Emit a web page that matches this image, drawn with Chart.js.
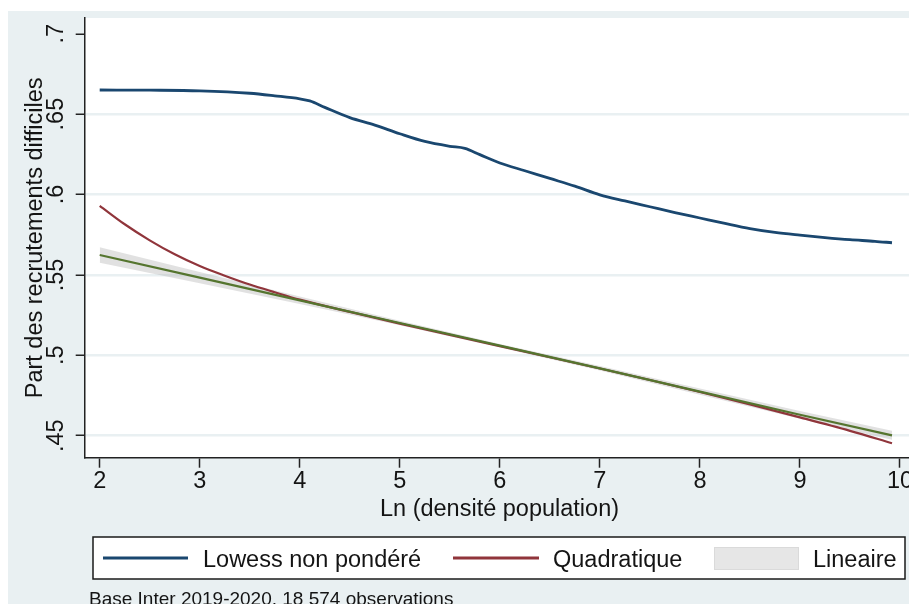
<!DOCTYPE html>
<html><head><meta charset="utf-8">
<script src="https://cdn.jsdelivr.net/npm/chart.js@4.4.1/dist/chart.umd.min.js"></script>
<style>html,body{margin:0;padding:0;background:#fff;overflow:hidden}canvas{display:block}</style>
</head><body>
<canvas id="c" width="909" height="604"></canvas>
<script>
// ---- data ----
const xTicks = [2, 3, 4, 5, 6, 7, 8, 9, 10];
const yTicks = [0.45, 0.5, 0.55, 0.6, 0.65, 0.7];
const yTickLabels = ['.45', '.5', '.55', '.6', '.65', '.7'];

const lowessX = [2, 2.5, 3, 3.5, 3.75, 4, 4.1, 4.25, 4.5, 4.75, 5, 5.25, 5.5, 5.65, 5.8, 6, 6.25, 6.5, 6.75, 7, 7.25, 7.5, 7.75, 8, 8.25, 8.5, 8.75, 9, 9.25, 9.5, 9.75, 9.92];
const lowessY = [0.6650, 0.6649, 0.6645, 0.6630, 0.6614, 0.6595, 0.6582, 0.6542, 0.6478, 0.6432, 0.6378, 0.6330, 0.6300, 0.6287, 0.6248, 0.6196, 0.6148, 0.6100, 0.6052, 0.5998, 0.5960, 0.5924, 0.5888, 0.5854, 0.5820, 0.5788, 0.5764, 0.5747, 0.5732, 0.5719, 0.5709, 0.5700];

const quadX = [2, 2.25, 2.5, 2.75, 3, 3.25, 3.5, 3.75, 4, 4.5, 5, 5.5, 6, 6.5, 7, 7.5, 8, 8.5, 9, 9.5, 9.92];
const quadY = [0.5930, 0.5815, 0.5715, 0.5628, 0.5555, 0.5495, 0.5440, 0.5392, 0.5346, 0.5270, 0.5197, 0.5127, 0.5057, 0.4988, 0.4918, 0.4846, 0.4772, 0.4695, 0.4614, 0.4530, 0.4453];

const linX = [2, 3, 4, 5, 6, 7, 8, 9, 9.92];
const linY = [0.5624, 0.5483, 0.5342, 0.5201, 0.5060, 0.4919, 0.4774, 0.4630, 0.4502];
const linUpper = [0.5672, 0.5518, 0.5365, 0.5215, 0.5071, 0.4933, 0.4793, 0.4654, 0.4530];
const linLower = [0.5576, 0.5448, 0.5319, 0.5187, 0.5049, 0.4905, 0.4755, 0.4606, 0.4474];

const xTitle = 'Ln (densité population)';
const yTitle = 'Part des recrutements difficiles';
const legendLabels = ['Lowess non pondéré', 'Quadratique', 'Lineaire'];
const note = 'Base Inter 2019-2020, 18 574 observations';

// ---- styling ----
const FONT = '"Liberation Sans", Arial, sans-serif';
const BG = '#e9f0f2';
const INK = '#141414';
const C_LOW = '#1a476f', C_QUAD = '#90353b', C_LIN = '#55752f';

const pts = (xs, ys) => xs.map((x, i) => ({x, y: ys[i]}));

const stataPlugin = {
  id: 'stata',
  beforeDraw(chart) {
    const ctx = chart.ctx, a = chart.chartArea;
    ctx.save();
    ctx.fillStyle = '#fff';
    ctx.fillRect(0, 0, chart.width, chart.height);
    ctx.fillStyle = BG;
    ctx.fillRect(8, 11, chart.width - 8, chart.height - 11);
    ctx.fillStyle = '#fff';
    ctx.fillRect(a.left, a.top, a.right - a.left, a.bottom - a.top);
    ctx.restore();
  },
  afterDraw(chart) {
    const ctx = chart.ctx, a = chart.chartArea, ys = chart.scales.y;
    ctx.save();
    ctx.fillStyle = INK;
    ctx.font = '23.5px ' + FONT;
    // y tick labels (rotated)
    yTicks.forEach((v, i) => {
      const py = ys.getPixelForValue(v);
      ctx.save();
      ctx.translate(63.3, py);
      ctx.rotate(-Math.PI / 2);
      ctx.textAlign = 'center';
      ctx.textBaseline = 'alphabetic';
      ctx.fillText(yTickLabels[i], 0, 0);
      ctx.restore();
    });
    // y title
    ctx.save();
    ctx.translate(41.8, (a.top + a.bottom) / 2);
    ctx.rotate(-Math.PI / 2);
    ctx.textAlign = 'center';
    ctx.textBaseline = 'alphabetic';
    ctx.fillText(yTitle, 0, 0);
    ctx.restore();
    // x title
    ctx.textAlign = 'center';
    ctx.textBaseline = 'alphabetic';
    ctx.fillText(xTitle, 499.5, 516);
    // legend box
    ctx.fillStyle = '#fff';
    ctx.fillRect(93, 537, 812, 42);
    ctx.strokeStyle = '#1a1a1a';
    ctx.lineWidth = 1.5;
    ctx.strokeRect(93, 537, 812, 42);
    const ly = 558;
    ctx.lineWidth = 3;
    ctx.strokeStyle = C_LOW;
    ctx.beginPath(); ctx.moveTo(103, ly); ctx.lineTo(188, ly); ctx.stroke();
    ctx.strokeStyle = C_QUAD;
    ctx.beginPath(); ctx.moveTo(453, ly); ctx.lineTo(539, ly); ctx.stroke();
    ctx.fillStyle = '#e6e6e6';
    ctx.fillRect(714, 547, 85, 23);
    ctx.strokeStyle = '#dadada';
    ctx.lineWidth = 1;
    ctx.strokeRect(714.5, 547.5, 84, 22);
    ctx.fillStyle = INK;
    ctx.textAlign = 'left';
    ctx.textBaseline = 'alphabetic';
    ctx.fillText(legendLabels[0], 203, 566.5);
    ctx.fillText(legendLabels[1], 553, 566.5);
    ctx.fillText(legendLabels[2], 813, 566.5);
    // note
    ctx.font = '19px ' + FONT;
    ctx.fillText(note, 89, 605);
    ctx.restore();
  }
};

new Chart(document.getElementById('c'), {
  type: 'line',
  data: {
    datasets: [
      {label: legendLabels[0], data: pts(lowessX, lowessY), borderColor: C_LOW, borderWidth: 2.8,
       pointRadius: 0, cubicInterpolationMode: 'monotone', fill: false},
      {label: legendLabels[2], data: pts(linX, linY), borderColor: C_LIN, borderWidth: 2.2,
       pointRadius: 0, tension: 0, fill: false},
      {label: legendLabels[1], data: pts(quadX, quadY), borderColor: C_QUAD, borderWidth: 2.2,
       pointRadius: 0, cubicInterpolationMode: 'monotone', fill: false},
      {label: 'IC haut', data: pts(linX, linUpper), borderWidth: 0, borderColor: 'rgba(0,0,0,0)',
       pointRadius: 0, fill: false},
      {label: 'IC bas', data: pts(linX, linLower), borderWidth: 0, borderColor: 'rgba(0,0,0,0)',
       pointRadius: 0, fill: '-1', backgroundColor: 'rgba(175,175,175,0.38)'}
    ]
  },
  options: {
    responsive: false,
    animation: false,
    devicePixelRatio: 1,
    parsing: true,
    layout: {padding: {left: 0, right: 0, top: 18, bottom: 0}},
    plugins: {legend: {display: false}, tooltip: {enabled: false}},
    scales: {
      x: {
        type: 'linear', min: 1.85, max: 10.09,
        afterBuildTicks(s) { s.ticks = xTicks.map(v => ({value: v})); },
        afterFit(s) { s.height = 146.3; s.paddingLeft = 0; s.paddingRight = 0; },
        grid: {display: true, drawOnChartArea: false, drawTicks: true, tickLength: 10,
               tickColor: '#222', tickWidth: 1.5},
        border: {display: true, color: '#222', width: 1.5},
        ticks: {font: {family: FONT, size: 23.5}, color: INK, padding: 0, maxRotation: 0,
                minRotation: 0, autoSkip: false, callback: v => String(v)}
      },
      y: {
        type: 'linear', min: 0.4363, max: 0.7098,
        afterBuildTicks(s) { s.ticks = yTicks.map(v => ({value: v})); },
        afterFit(s) { s.width = 84.7; s.paddingTop = 0; s.paddingBottom = 0; },
        grid: {color: ctx => (ctx.tick && ctx.tick.value >= 0.699 ? 'rgba(0,0,0,0)' : BG),
               lineWidth: 2.5, drawTicks: true, tickLength: 9, tickColor: '#222', tickWidth: 1.5},
        border: {display: true, color: '#222', width: 1.5},
        ticks: {display: false}
      }
    }
  },
  plugins: [stataPlugin]
});
</script>
</body></html>
